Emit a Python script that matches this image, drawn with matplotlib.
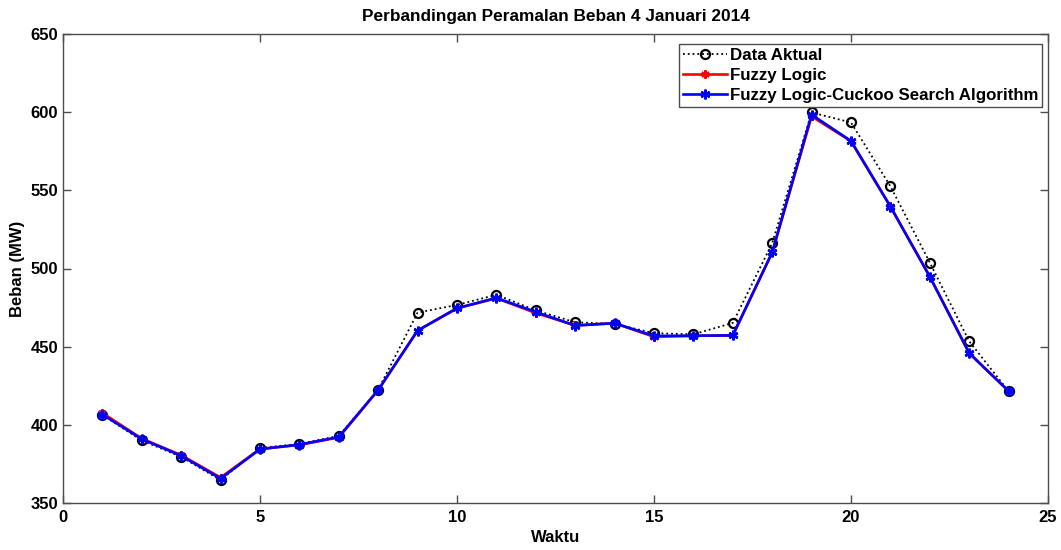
import matplotlib.pyplot as plt
import numpy as np

plt.rcParams['font.family'] = ['Liberation Sans', 'DejaVu Sans']
plt.rcParams['font.weight'] = 'bold'
plt.rcParams['font.size'] = 12

waktu = np.arange(1, 25)
data_aktual = [406.3, 390.0, 379.5, 364.7, 385.2, 387.8, 392.9, 422.5,
               471.8, 476.7, 483.2, 473.2, 465.6, 464.6, 458.6, 457.9,
               465.2, 516.2, 599.8, 593.4, 552.6, 503.8, 453.4, 421.5]
fuzzy_logic = [407.6, 391.2, 380.6, 366.3, 384.6, 387.1, 392.0, 422.3,
               460.3, 474.5, 481.0, 471.5, 463.6, 465.0, 456.3, 456.9,
               457.2, 510.3, 597.3, 581.4, 539.7, 494.8, 445.9, 421.6]
fuzzy_cuckoo = [406.6, 390.9, 380.2, 365.6, 384.4, 387.4, 392.2, 422.3,
                460.3, 474.6, 481.2, 472.2, 463.5, 465.0, 456.9, 457.0,
                457.2, 510.3, 598.4, 581.6, 539.6, 494.8, 445.8, 421.6]

# MATLAB-style asterisk marker
asterisk = (6, 2, 0)

fig = plt.figure(figsize=(10.61, 5.5), dpi=100)
ax = fig.add_axes([63 / 1061, 1 - 503 / 550, 985 / 1061, 469 / 550])

ax.plot(waktu, data_aktual, linestyle=':', color='black', linewidth=1.3,
        marker='o', markersize=6.5, markerfacecolor='none',
        markeredgewidth=1.6, label='Data Aktual')
ax.plot(waktu, fuzzy_logic, linestyle='-', color='red', linewidth=1.9,
        marker=asterisk, markersize=6, markeredgewidth=1.6, label='Fuzzy Logic')
ax.plot(waktu, fuzzy_cuckoo, linestyle='-', color='blue', linewidth=1.9,
        marker=asterisk, markersize=7, markeredgewidth=1.8,
        label='Fuzzy Logic-Cuckoo Search Algorithm')

ax.set_xlim(0, 25)
ax.set_ylim(350, 650)
ax.set_xticks(np.arange(0, 26, 5))
ax.set_yticks(np.arange(350, 651, 50))
ax.tick_params(direction='in', top=True, right=True, length=6, width=1,
               color='0.3', labelsize=12)
ax.tick_params(axis='x', pad=5)
for s in ax.spines.values():
    s.set_linewidth(1)
    s.set_color('0.3')

ax.set_title('Perbandingan Peramalan Beban 4 Januari 2014',
             fontweight='bold', fontsize=12.4, pad=9)
ax.set_xlabel('Waktu', fontweight='bold', fontsize=12, labelpad=4)
ax.set_ylabel('Beban (MW)', fontweight='bold', fontsize=12, labelpad=4)

leg = ax.legend(loc='upper right', bbox_to_anchor=(0.9995, 0.99),
                fancybox=False, edgecolor='0.3', framealpha=1,
                handlelength=2.6, handletextpad=0.15, borderpad=0.25,
                labelspacing=0.3, borderaxespad=0.3,
                prop={'weight': 'bold', 'size': 12.2})
leg.get_frame().set_linewidth(1)

fig.savefig('out.png', dpi=100)
